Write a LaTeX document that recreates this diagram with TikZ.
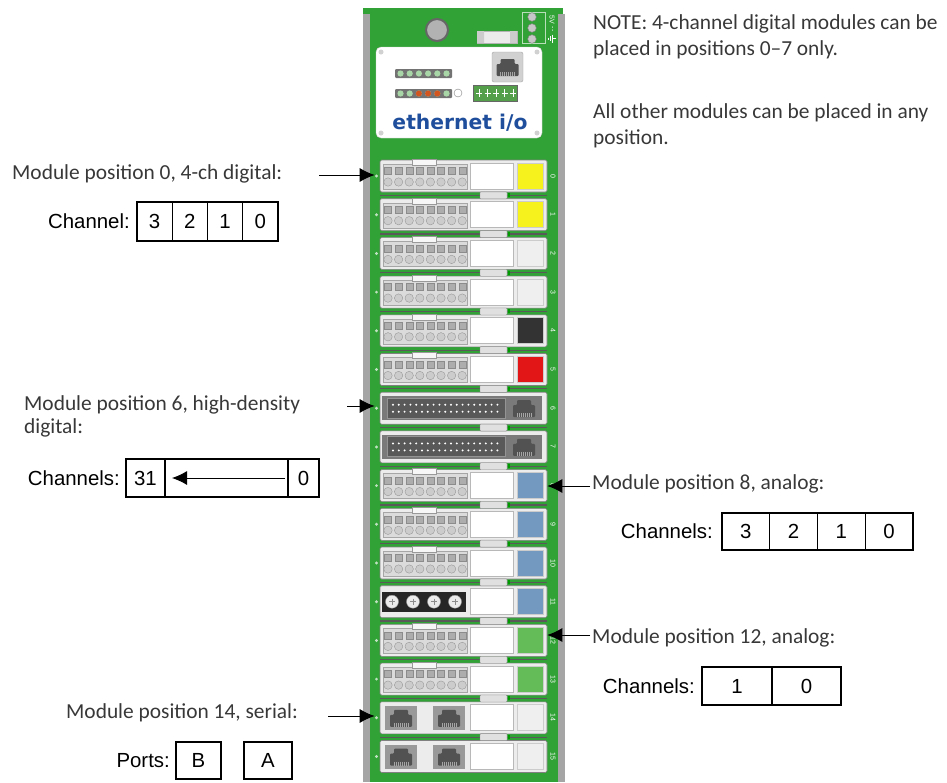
\documentclass[tikz,border=0pt]{standalone}
\usepackage{fontspec}
\setmainfont{Carlito}
\newfontfamily\arialfont{Liberation Sans}
\newfontfamily\logofont{DejaVu Sans}
\usetikzlibrary{arrows.meta,positioning}
\pgfdeclarelayer{bg}
\pgfsetlayers{bg,main}
\definecolor{pcb}{HTML}{31A236}
\definecolor{rail}{HTML}{A5A5A5}
\definecolor{modgray}{HTML}{ECECEC}
\definecolor{sqyellow}{HTML}{F6F21E}
\definecolor{sqlight}{HTML}{EFEFEF}
\definecolor{sqdark}{HTML}{333333}
\definecolor{sqred}{HTML}{E21616}
\definecolor{sqblue}{HTML}{7399C0}
\definecolor{sqgreen}{HTML}{63BC57}
\definecolor{logoblue}{HTML}{1F4F9C}
\definecolor{ledgreen}{HTML}{A9D6A6}
\definecolor{ledorange}{HTML}{D2541E}
\tikzset{
    note/.style={font=\fontsize{21.4}{26}\selectfont, text=black!78, inner sep=0pt, anchor=base west},
    boxtext/.style={font=\arialfont\fontsize{20.4}{24}\selectfont, inner sep=0pt},
    cell/.style={draw, line width=1.4pt, boxtext, outer sep=0pt, minimum height=38pt}
}
\tikzset{
    pointer/.style={-{Latex[length=15pt,width=14pt]}, line width=0.9pt},
    modbody/.style={fill=modgray, draw=black!50, line width=0.6pt, rounded corners=1.5pt,
        minimum width=167pt, minimum height=32pt, inner sep=0pt},
    whitebox/.style={fill=white, draw=black!28, line width=0.8pt},
    slotnum/.style={font=\arialfont\fontsize{7}{7}\selectfont, text=white, rotate=-90, inner sep=0pt}
}
\newcommand{\jack}[2]{
    \fill[black!68, rounded corners=1pt] (#1-11,#2+9) -- (#1-11,#2-3) -- (#1-7,#2-3) -- (#1-7,#2-8)
        -- (#1+7,#2-8) -- (#1+7,#2-3) -- (#1+11,#2-3) -- (#1+11,#2+9) -- cycle;
    \foreach \p in {-7,-5,...,7}
        \draw[black!35, line width=0.6pt] (#1+\p,#2+5) -- (#1+\p,#2+9);
}

\begin{document}
\begin{tikzpicture}[x=1pt, y=-1pt]
    \useasboundingbox (0,0) rectangle (947,782);

    \begin{pgfonlayer}{bg}
        \fill[pcb] (363,8) rectangle (563,782);
        \fill[rail] (363,14) rectangle (370,782);
        \fill[rail] (558,14) rectangle (565,782);
    \end{pgfonlayer}

    % top of the board
    \draw[fill=black!30, draw=black!60, line width=2pt] (437,30) circle (11);
    \draw[fill=black!8, draw=black!30] (477,31) rectangle (517,43);
    \fill[black!20] (477,31) rectangle (484,43) (510,31) rectangle (517,43);
    \draw[fill=pcb, draw=white!65!pcb, line width=0.8pt] (522,12) rectangle (545,43);
    \foreach \y in {17,28,39}
        \draw[fill=black!22, draw=black!50] (532,\y) circle (4.3);
    \node[slotnum] (pwr) at (552,20) {5V};
    \node[slotnum] (dash) at (552,29) {--};
    \draw[white, line width=0.6pt] (556,38.5) -- (552,38.5) (552,34.5) -- (552,42.5)
        (550,36) -- (550,41) (548,37.5) -- (548,39.5);

    \draw[fill=white, draw=black!20, rounded corners=5pt] (376,47) rectangle (542,138);
    \foreach \x/\y in {381/52, 537/52, 381/133, 537/133}
        \fill[black!18] (\x,\y) circle (2.5);
    \fill[black!55, rounded corners=1pt] (395,69) rectangle (452,78);
    \fill[black!55, rounded corners=1pt] (395,89) rectangle (452,98);
    \foreach \k in {0,...,5} {
        \fill[ledgreen] (400.5+9.2*\k,73.5) circle (3.1);
        \fill[ledgreen] (400.5+9.2*\k,93.5) circle (3.1);
    }
    \foreach \k in {2,3,4}
        \fill[ledorange] (400.5+9.2*\k,93.5) circle (3.1);
    \draw[fill=white, draw=black!50] (458,93) circle (4);
    \draw[fill=black!18, draw=black!35, rounded corners=2pt] (492,52) rectangle (523,82);
    \jack{507.5}{67}
    \draw[fill=sqgreen!85!black, draw=black!60] (473,85) rectangle (517,101);
    \foreach \k in {0,...,4}
        \draw[white, line width=0.7pt] (479+8.5*\k,89) -- (479+8.5*\k,97) (476+8.5*\k,93) -- (482+8.5*\k,93);
    \node[font=\logofont\bfseries\fontsize{20.3}{20}\selectfont, text=logoblue, inner sep=0pt]
        (logo) at (460,123) {ethernet i/o};

    % module slots
    \foreach \i in {0,...,15} {
        \pgfmathsetmacro\c{176+38.7*\i}
        \fill[white!70!pcb] (376.5,\c) circle (1.6);
        \node[modbody] (m\i) at (463.5,\c) {};
        \node[slotnum] (n\i) at (553,\c) {\i};
    }
    \foreach \i in {0,...,14} {
        \pgfmathsetmacro\s{176+38.7*\i+19.35}
        \draw[black!65, line width=1.2pt] (380,\s) -- (547,\s);
        \draw[fill=black!12, draw=black!45, rounded corners=0.8pt] (480,\s-3.5) rectangle (507,\s+3.5);
        \fill[green!60!black] (507.5,\s-2) rectangle (509.5,\s+2);
    }
    \foreach \i/\sq in {0/sqyellow, 1/sqyellow, 2/sqlight, 3/sqlight, 4/sqdark, 5/sqred,
            8/sqblue, 9/sqblue, 10/sqblue, 11/sqblue, 12/sqgreen, 13/sqgreen, 14/sqlight, 15/sqlight} {
        \pgfmathsetmacro\c{176+38.7*\i}
        \draw[whitebox] (470,\c-13) rectangle (513,\c+13);
        \draw[fill=\sq, draw=black!20, line width=0.8pt] (517,\c-13) rectangle (543,\c+13);
    }
    % 4-channel connectors
    \foreach \i in {0,1,2,3,4,5,8,9,10,12,13} {
        \pgfmathsetmacro\c{176+38.7*\i}
        \draw[fill=black!14, draw=black!35] (383,\c-12) rectangle (467,\c+13);
        \foreach \k in {0,...,7} {
            \draw[fill=black!32, draw=black!45] (384.5+10.6*\k,\c-8.5) rectangle (391.5+10.6*\k,\c-1.5);
            \draw[fill=black!20, draw=black!40] (388+10.6*\k,\c+6) circle (4.2);
        }
        \draw[fill=black!3, draw=black!40] (412,\c-17) rectangle (436,\c-11);
    }
    % high-density connectors
    \foreach \i in {6,7} {
        \pgfmathsetmacro\c{176+38.7*\i}
        \fill[black!52] (382,\c-12) rectangle (542,\c+12);
        \draw[fill=black!65, draw=black!42, line width=1pt] (387,\c-10) rectangle (505,\c+10);
        \foreach \k in {0,...,18} {
            \fill[white] (393+5.8*\k,\c-3.5) circle (1.1);
            \fill[white] (393+5.8*\k,\c+3.5) circle (1.1);
        }
        \jack{524}{\c}
    }
    % terminal block
    \pgfmathsetmacro\c{176+38.7*11}
    \fill[black!85] (382,\c-10) rectangle (466,\c+10);
    \foreach \x in {392,413,434,455} {
        \draw[fill=black!8, draw=black!40] (\x,\c) circle (6.5);
        \draw[black!45, line width=1pt] (\x-3,\c) -- (\x+3,\c) (\x,\c-3) -- (\x,\c+3);
    }
    % serial ports
    \foreach \i in {14,15} {
        \pgfmathsetmacro\c{176+38.7*\i}
        \fill[black!40] (385,\c-12) rectangle (417,\c+12);
        \fill[black!40] (433,\c-12) rectangle (465,\c+12);
        \jack{401}{\c}
        \jack{449}{\c}
    }

    % notes
    \node[note] (note1) at (593,29) {NOTE: 4-channel digital modules can be};
    \node[note] (note2) at (593,55) {placed in positions 0--7 only.};
    \node[note] (note3) at (593,118) {All other modules can be placed in any};
    \node[note] (note4) at (593,144) {position.};

    % position 0
    \node[note] (l0) at (12,179) {Module position 0, 4-ch digital:};
    \coordinate (t0) at (319,175);
    \draw[pointer, shorten >=5pt] (t0) -- (t0 -| m0.west);
    \node[cell, minimum width=35.25pt, minimum height=39pt] (ch3) at (154.6,221.5) {3};
    \node[cell, minimum width=35.25pt, minimum height=39pt, right=0pt of ch3] (ch2) {2};
    \node[cell, minimum width=35.25pt, minimum height=39pt, right=0pt of ch2] (ch1) {1};
    \node[cell, minimum width=35.25pt, minimum height=39pt, right=0pt of ch1] (ch0) {0};
    \node[boxtext, left=7pt of ch3] (chl) {Channel:};

    % position 6
    \node[note] (l6) at (24,410) {Module position 6, high-density};
    \node[note] (l6b) at (24,433) {digital:};
    \coordinate (t6) at (347,406);
    \draw[pointer, shorten >=5pt] (t6) -- (t6 -| m6.west);
    \node[cell, minimum width=39pt] (h31) at (145.5,478) {31};
    \node[cell, minimum width=123pt, right=0pt of h31] (hmid) {};
    \node[cell, minimum width=31pt, right=0pt of hmid] (h0) {0};
    \node[boxtext, left=6pt of h31] (hl) {Channels:};
    \draw[pointer, shorten <=3pt, shorten >=7pt] (hmid.east) -- (hmid.west);

    % position 8
    \node[note] (l8) at (592,489) {Module position 8, analog:};
    \coordinate (t8) at (590,486);
    \draw[pointer] (t8) -- (t8 -| m8.east);
    \node[cell, minimum width=47.75pt, minimum height=37pt] (a3) at (745.9,531.5) {3};
    \node[cell, minimum width=47.75pt, minimum height=37pt, right=0pt of a3] (a2) {2};
    \node[cell, minimum width=47.75pt, minimum height=37pt, right=0pt of a2] (a1) {1};
    \node[cell, minimum width=47.75pt, minimum height=37pt, right=0pt of a1] (a0) {0};
    \node[boxtext, left=9pt of a3] (al) {Channels:};

    % position 12
    \node[note] (l12) at (592,643) {Module position 12, analog:};
    \coordinate (t12) at (590,635);
    \draw[pointer] (t12) -- (t12 -| m12.east);
    \node[cell, minimum width=70pt] (b1) at (737,686) {1};
    \node[cell, minimum width=69pt, right=0pt of b1] (b0) {0};
    \node[boxtext, left=7pt of b1] (bl) {Channels:};

    % position 14
    \node[note] (l14) at (66,718) {Module position 14, serial:};
    \coordinate (t14) at (328,716);
    \draw[pointer, shorten >=5pt] (t14) -- (t14 -| m14.west);
    \node[cell, minimum width=45pt, minimum height=37pt] (pb) at (198.5,760.5) {B};
    \node[cell, minimum width=48pt, minimum height=37pt, right=23pt of pb] (pa) {A};
    \node[boxtext, left=6pt of pb] (pl) {Ports:};
\end{tikzpicture}
\end{document}
